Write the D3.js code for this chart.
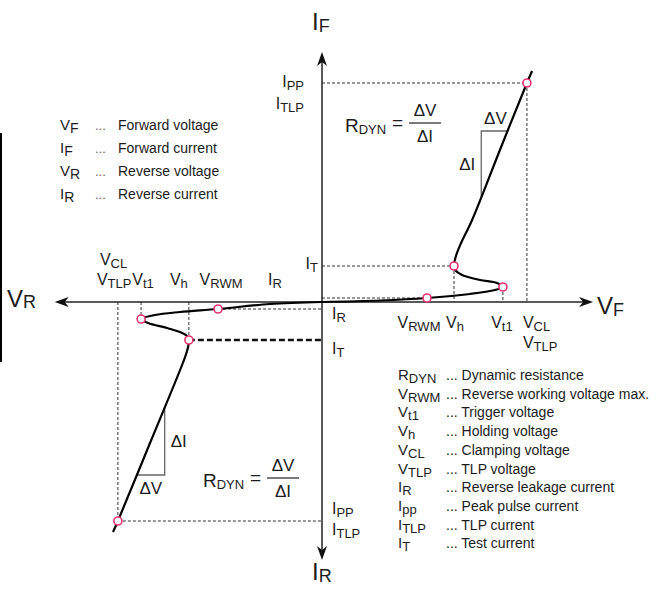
<!DOCTYPE html>
<html>
<head>
<meta charset="utf-8">
<script src="https://cdn.jsdelivr.net/npm/d3@7"></script>
<style>
  body { margin: 0; background: #fff; }
  svg { display: block; font-family: "Liberation Sans", Arial, sans-serif; }
  text { fill: #1c1c1c; }
</style>
</head>
<body>
<script>
// I-V characteristic, arbitrary units (0,0 = origin)
var fwdCurveV = [0, 21.5, 38.9, 54.8, 64.1, 67, 64.8, 58.5, 51.9, 49.3, 48.9, 49.6, 51.5, 55.6, 65.9, 75.9, 77.8];
var fwdCurveI = [0, 0.6, 1.6, 3.2, 4.8, 6, 7.6, 8.8, 10.8, 12.8, 14.4, 18.4, 23.6, 32.8, 60.8, 87.6, 92.4];
var revCurveV = [0, -19.3, -38.5, -52.6, -61.9, -67, -64.4, -57.4, -52.6, -50, -49.3, -49.6, -50.7, -63.7, -75.6, -77.4];
var revCurveI = [0, -0.8, -2.8, -4, -5.2, -6.8, -8.4, -10.4, -12, -13.6, -15.2, -18, -22, -56.4, -87.6, -92];

// marked points: VRWM, Vt1, Vh, Ipp
var pointNames = ["VRWM", "Vt1", "Vh", "Ipp"];
var fwdPointV = [38.9, 67, 48.9, 75.9];
var fwdPointI = [1.6, 6, 14.4, 87.6];
var revPointV = [-38.5, -67, -49.3, -75.6];
var revPointI = [-2.8, -6.8, -15.2, -87.6];

// dynamic resistance triangles (current levels on the straight part)
var fwdTriI = [42, 68.4];
var revTriI = [-42, -69.2];

var vAxisEnds = [-99, 100.4];
var iAxisEnds = [-103.2, 100];

var leftLegendSym = [["V", "F"], ["I", "F"], ["V", "R"], ["I", "R"]];
var leftLegendText = ["Forward voltage", "Forward current", "Reverse voltage", "Reverse current"];

var rightLegendSym = [["R", "DYN"], ["V", "RWM"], ["V", "t1"], ["V", "h"], ["V", "CL"],
                      ["V", "TLP"], ["I", "R"], ["I", "pp"], ["I", "TLP"], ["I", "T"]];
var rightLegendText = ["Dynamic resistance", "Reverse working voltage max.", "Trigger voltage",
                       "Holding voltage", "Clamping voltage", "TLP voltage", "Reverse leakage current",
                       "Peak pulse current", "TLP current", "Test current"];

var width = 664, height = 591;

var x = d3.scaleLinear().domain([-100, 100]).range([52, 592]);
var y = d3.scaleLinear().domain([-100, 100]).range([552, 52]);

var svg = d3.select('body').append('svg')
    .attr('width', width)
    .attr('height', height);

svg.append('rect').attr('width', width).attr('height', height).attr('fill', '#fff');

// stray frame line at the left edge
svg.append('line')
    .attr('x1', 1).attr('x2', 1).attr('y1', 133).attr('y2', 362)
    .attr('stroke', '#000').attr('stroke-width', 2);

function sym(sel, px, py, main, sub, size, subSize, dy, anchor) {
  var t = sel.append('text')
      .attr('x', px).attr('y', py)
      .attr('font-size', size)
      .attr('text-anchor', anchor || 'start');
  t.append('tspan').text(main);
  t.append('tspan').attr('font-size', subSize).attr('dy', dy).text(sub);
  return t;
}

var zip = function(a, b) { return a.map(function(v, i) { return [v, b[i]]; }); };
var fwdPts = zip(fwdPointV, fwdPointI);
var revPts = zip(revPointV, revPointI);

// ---- dashed guide lines
var guides = svg.append('g')
    .attr('fill', 'none')
    .attr('stroke', '#333')
    .attr('stroke-width', 1)
    .attr('stroke-dasharray', '3,2');

function dash(v1, i1, v2, i2) {
  guides.append('line')
      .attr('x1', x(v1)).attr('y1', y(i1))
      .attr('x2', x(v2)).attr('y2', y(i2));
}
// forward
dash(0, fwdPts[3][1], fwdPts[3][0], fwdPts[3][1]);
dash(fwdPts[3][0], fwdPts[3][1], fwdPts[3][0], 0);
dash(0, fwdPts[2][1], fwdPts[2][0], fwdPts[2][1]);
dash(fwdPts[2][0], fwdPts[2][1], fwdPts[2][0], 0);
dash(fwdPts[1][0], fwdPts[1][1], fwdPts[1][0], 0);
dash(0, fwdPts[0][1], fwdPts[0][0], fwdPts[0][1]);
// reverse
dash(revPts[3][0], 0, revPts[3][0], revPts[3][1]);
dash(revPts[3][0], revPts[3][1], 0, revPts[3][1]);
dash(revPts[1][0], 0, revPts[1][0], revPts[1][1]);
dash(revPts[2][0], 0, revPts[2][0], revPts[2][1]);
dash(revPts[0][0], revPts[0][1], 0, revPts[0][1]);

// thick dashed test current line (reverse)
svg.append('line')
    .attr('x1', x(revPts[2][0])).attr('y1', y(revPts[2][1]))
    .attr('x2', x(0)).attr('y2', y(revPts[2][1]))
    .attr('stroke', '#111').attr('stroke-width', 2.4)
    .attr('stroke-dasharray', '6,3');

// ---- axes with arrow heads
var axisG = svg.append('g');
axisG.append('line')
    .attr('x1', x(vAxisEnds[0]) + 8).attr('x2', x(vAxisEnds[1]) - 8)
    .attr('y1', y(0)).attr('y2', y(0))
    .attr('stroke', '#222').attr('stroke-width', 1.5);
axisG.append('line')
    .attr('x1', x(0)).attr('x2', x(0))
    .attr('y1', y(iAxisEnds[1]) + 8).attr('y2', y(iAxisEnds[0]) - 8)
    .attr('stroke', '#222').attr('stroke-width', 1.5);

function arrow(px, py, angle) {
  axisG.append('path')
      .attr('d', 'M0,0 L-14,-5 L-10,0 L-14,5 Z')
      .attr('transform', 'translate(' + px + ',' + py + ') rotate(' + angle + ')')
      .attr('fill', '#111');
}
arrow(x(vAxisEnds[1]), y(0), 0);
arrow(x(vAxisEnds[0]), y(0), 180);
arrow(x(0), y(iAxisEnds[1]), -90);
arrow(x(0), y(iAxisEnds[0]), 90);

// ---- dynamic resistance triangles
function vOnLine(cv, ci, cur) {
  for (var k = 0; k < ci.length - 1; k++) {
    var a = ci[k], b = ci[k + 1];
    if ((cur - a) * (cur - b) <= 0 && a !== b) {
      return cv[k] + (cur - a) / (b - a) * (cv[k + 1] - cv[k]);
    }
  }
  return cv[cv.length - 1];
}
function triangle(cv, ci, tri) {
  var vLow = vOnLine(cv, ci, tri[0]);
  var vHigh = vOnLine(cv, ci, tri[1]);
  svg.append('path')
      .attr('d', 'M' + x(vLow) + ',' + y(tri[0]) +
                 'L' + x(vLow) + ',' + y(tri[1]) +
                 'L' + x(vHigh) + ',' + y(tri[1]))
      .attr('fill', 'none').attr('stroke', '#666').attr('stroke-width', 1.3);
  return [vLow, vHigh];
}
var ft = triangle(fwdCurveV.slice(12), fwdCurveI.slice(12), fwdTriI);
var rt = triangle(revCurveV.slice(11), revCurveI.slice(11), revTriI);

svg.append('text').attr('x', (x(ft[0]) + x(ft[1])) / 2 + 1).attr('y', y(fwdTriI[1]) - 7)
    .attr('font-size', 17).attr('text-anchor', 'middle').text('ΔV');
svg.append('text').attr('x', x(ft[0]) - 6).attr('y', y((fwdTriI[0] + fwdTriI[1]) / 2) + 6)
    .attr('font-size', 17).attr('text-anchor', 'end').text('ΔI');
svg.append('text').attr('x', x(rt[0]) + 6).attr('y', y((revTriI[0] + revTriI[1]) / 2) + 6)
    .attr('font-size', 17).attr('text-anchor', 'start').text('ΔI');
svg.append('text').attr('x', (x(rt[0]) + x(rt[1])) / 2).attr('y', y(revTriI[1]) + 19)
    .attr('font-size', 17).attr('text-anchor', 'middle').text('ΔV');

// ---- the curve
var line = d3.line()
    .x(function(d) { return x(d[0]); })
    .y(function(d) { return y(d[1]); })
    .curve(d3.curveCatmullRom.alpha(0.5));

svg.append('path').datum(zip(fwdCurveV, fwdCurveI))
    .attr('d', line).attr('fill', 'none').attr('stroke', '#000').attr('stroke-width', 2.2);
svg.append('path').datum(zip(revCurveV, revCurveI))
    .attr('d', line).attr('fill', 'none').attr('stroke', '#000').attr('stroke-width', 2.2);

// ---- marked points
svg.selectAll('.pt')
    .data(fwdPts.concat(revPts))
    .enter().append('circle')
    .attr('class', 'pt')
    .attr('cx', function(d) { return x(d[0]); })
    .attr('cy', function(d) { return y(d[1]); })
    .attr('r', 4)
    .attr('fill', '#fff')
    .attr('stroke', '#e8336e')
    .attr('stroke-width', 1.6);

// ---- formulas
function formula(px, py) {
  var g = svg.append('g').attr('transform', 'translate(' + px + ',' + py + ')');
  sym(g, 0, 9, 'R', 'DYN', 19, 13, 2);
  g.append('text').attr('x', 47).attr('y', 6).attr('font-size', 19).text('=');
  g.append('line').attr('x1', 64).attr('x2', 96).attr('y1', 0).attr('y2', 0)
      .attr('stroke', '#222').attr('stroke-width', 1.2);
  g.append('text').attr('x', 80).attr('y', -7).attr('font-size', 17)
      .attr('text-anchor', 'middle').text('ΔV');
  g.append('text').attr('x', 80).attr('y', 19).attr('font-size', 17)
      .attr('text-anchor', 'middle').text('ΔI');
}
formula(345, 123);
formula(203, 478);

// ---- axis titles
sym(svg, 312, 30, 'I', 'F', 24, 18, 2);
sym(svg, 312, 580, 'I', 'R', 24, 18, 2);
sym(svg, 7, 307, 'V', 'R', 24, 18, 1);
sym(svg, 597, 314, 'V', 'F', 24, 18, 2);

// ---- point labels
var fs = 16, ss = 13, sd = 3;
// upper left of vertical axis
sym(svg, x(0) - 18, y(fwdPts[3][1]) + 4, 'I', 'PP', fs, ss, sd, 'end');
sym(svg, x(0) - 18, y(fwdPts[3][1]) + 26, 'I', 'TLP', fs, ss, sd, 'end');
sym(svg, x(0) - 4, y(fwdPts[2][1]) + 3, 'I', 'T', fs, ss, sd, 'end');
// right of axis below origin
sym(svg, x(0) + 10, y(0) + 17, 'I', 'R', fs, ss, sd);
sym(svg, x(0) + 10, y(0) + 52, 'I', 'T', fs, ss, sd);
// lower right
sym(svg, x(0) + 10, y(revPts[3][1]) - 7, 'I', 'PP', fs, ss, sd);
sym(svg, x(0) + 10, y(revPts[3][1]) + 14, 'I', 'TLP', fs, ss, sd);
// forward voltage labels
sym(svg, x(fwdPts[0][0]) - 8, y(0) + 26, 'V', 'RWM', fs, ss, sd, 'middle');
sym(svg, x(fwdPts[2][0]) + 1, y(0) + 26, 'V', 'h', fs, ss, sd, 'middle');
sym(svg, x(fwdPts[1][0]) - 1, y(0) + 26, 'V', 't1', fs, ss, sd, 'middle');
sym(svg, x(fwdPts[3][0]) - 4, y(0) + 26, 'V', 'CL', fs, ss, sd);
sym(svg, x(fwdPts[3][0]) - 4, y(0) + 46, 'V', 'TLP', fs, ss, sd);
// reverse voltage labels
sym(svg, x(revPts[3][0]) - 18, y(0) - 37, 'V', 'CL', fs, ss, sd);
sym(svg, x(revPts[3][0]) - 21, y(0) - 17, 'V', 'TLP', fs, ss, sd);
sym(svg, x(revPts[1][0]) + 2, y(0) - 17, 'V', 't1', fs, ss, sd, 'middle');
sym(svg, x(revPts[2][0]) - 10, y(0) - 17, 'V', 'h', fs, ss, sd, 'middle');
sym(svg, x(revPts[0][0]) + 3, y(0) - 17, 'V', 'RWM', fs, ss, sd, 'middle');
sym(svg, x(0) - 54, y(0) - 17, 'I', 'R', fs, ss, sd);

// ---- legends
var leftLeg = svg.append('g');
leftLegendSym.forEach(function(s, i) {
  var by = 130 + i * 23;
  sym(leftLeg, 60, by, s[0], s[1], 15, 14, 3);
  leftLeg.append('text').attr('x', 95).attr('y', by).attr('font-size', 13)
      .style('fill', '#666').text('...');
  leftLeg.append('text').attr('x', 118).attr('y', by).attr('font-size', 14).text(leftLegendText[i]);
});

var rightLeg = svg.append('g');
rightLegendSym.forEach(function(s, i) {
  var by = 380 + i * 18.7;
  sym(rightLeg, 398, by, s[0], s[1], 15, 13, 3);
  rightLeg.append('text').attr('x', 446).attr('y', by).attr('font-size', 14)
      .text('... ' + rightLegendText[i]);
});
</script>
</body>
</html>
